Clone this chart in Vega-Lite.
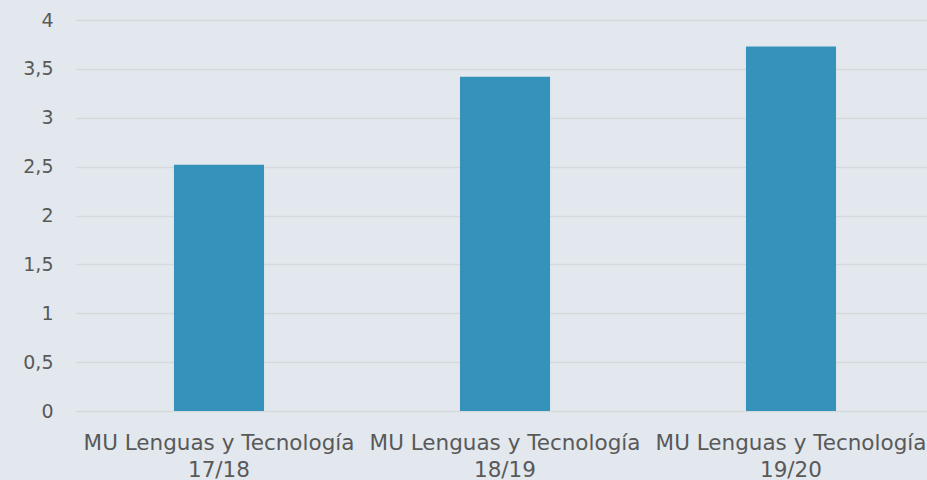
{
  "$schema": "https://vega.github.io/schema/vega-lite/v6.json",
  "width": 858,
  "height": 391,
  "autosize": {"type": "none"},
  "padding": {"left": 76, "top": 20, "right": 0, "bottom": 69},
  "background": "#e2e8ee",
  "config": {"view": {"stroke": null}, "font": "DejaVu Sans"},
  "data": {
    "values": [
      {"curso": "MU Lenguas y Tecnología 17/18", "valor": 2.52},
      {"curso": "MU Lenguas y Tecnología 18/19", "valor": 3.42},
      {"curso": "MU Lenguas y Tecnología 19/20", "valor": 3.73}
    ]
  },
  "mark": {"type": "bar", "color": "#3593bb"},
  "encoding": {
    "x": {
      "field": "curso",
      "type": "nominal",
      "sort": null,
      "scale": {"paddingInner": 0.685, "paddingOuter": 0.3425},
      "axis": {
        "title": null,
        "labelAngle": 0,
        "domain": false,
        "ticks": false,
        "labelPadding": 21,
        "labelFontSize": 21.5,
        "labelColor": "#595959",
        "labelLineHeight": 27,
        "labelLimit": 0,
        "labelFont": "DejaVu Sans",
        "labelExpr": "[slice(datum.label, 0, 23), slice(datum.label, 24)]"
      }
    },
    "y": {
      "field": "valor",
      "type": "quantitative",
      "scale": {"domain": [0, 4]},
      "axis": {
        "title": null,
        "values": [0, 0.5, 1, 1.5, 2, 2.5, 3, 3.5, 4],
        "domain": false,
        "ticks": false,
        "labelPadding": 23,
        "labelFontSize": 19,
        "labelColor": "#595959",
        "labelFont": "DejaVu Sans",
        "labelExpr": "replace(format(datum.value, ''), '.', ',')",
        "gridColor": "#d6d9dc",
        "gridWidth": 1.5
      }
    }
  }
}
